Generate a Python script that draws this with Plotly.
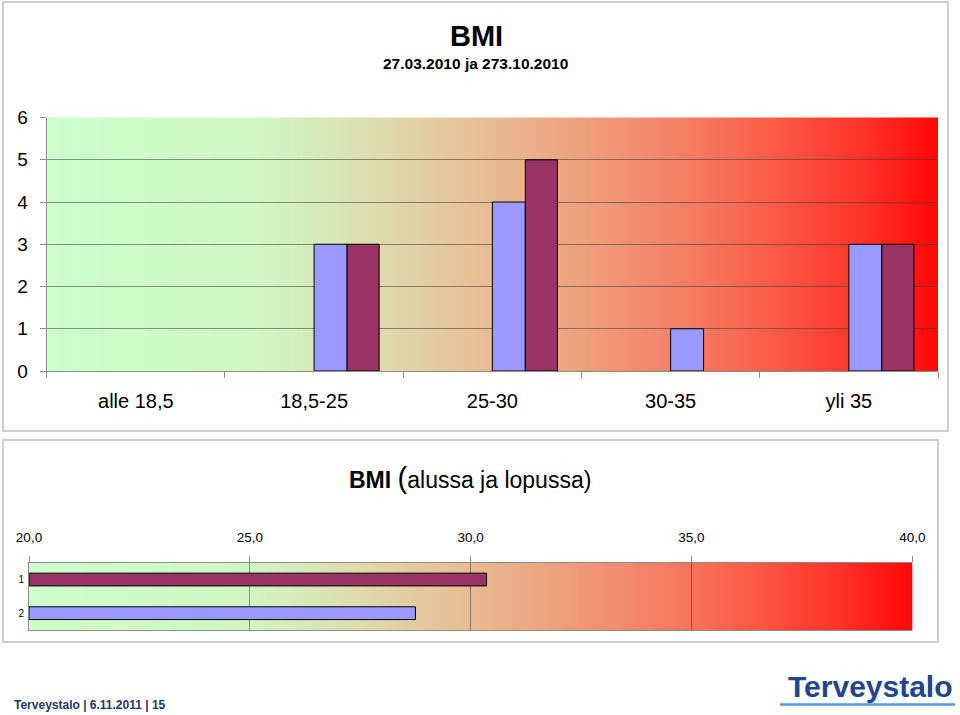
import base64
import struct
import zlib
import plotly.graph_objects as go

# ---------------- data ----------------
categories = ["alle 18,5", "18,5-25", "25-30", "30-35", "yli 35"]
series1_counts = [0, 3, 4, 1, 3]   # light blue
series2_counts = [0, 3, 5, 0, 3]   # maroon
y1_ticks = [0, 1, 2, 3, 4, 5, 6]

avg_labels = ["1", "2"]
avg_values = [30.36, 28.75]
avg_base = 20
x2_ticks = [20, 25, 30, 35, 40]

BLUE = "#9999ff"
MAROON = "#993366"

# ---------------- gradient image ----------------
stops = [
    (0.00, (204, 255, 204)),
    (0.25, (208, 245, 195)),
    (0.36, (220, 222, 175)),
    (0.47, (230, 195, 152)),
    (0.60, (238, 160, 125)),
    (0.72, (245, 125, 100)),
    (0.82, (252, 90, 70)),
    (0.92, (255, 50, 40)),
    (1.00, (255, 8, 8)),
]


def grad_png(stops, n=512):
    pix = bytearray()
    for i in range(n):
        t = i / (n - 1)
        for k in range(len(stops) - 1):
            t0, c0 = stops[k]
            t1, c1 = stops[k + 1]
            if t0 <= t <= t1:
                f = (t - t0) / (t1 - t0) if t1 > t0 else 0
                pix.extend(int(round(c0[j] + (c1[j] - c0[j]) * f)) for j in range(3))
                break
    row = b"\x00" + bytes(pix)
    raw = row * 2

    def chunk(tag, data):
        return (struct.pack(">I", len(data)) + tag + data
                + struct.pack(">I", zlib.crc32(tag + data) & 0xFFFFFFFF))

    png = (b"\x89PNG\r\n\x1a\n"
           + chunk(b"IHDR", struct.pack(">IIBBBBB", n, 2, 8, 2, 0, 0, 0))
           + chunk(b"IDAT", zlib.compress(raw))
           + chunk(b"IEND", b""))
    return "data:image/png;base64," + base64.b64encode(png).decode()


grad = grad_png(stops)

W, H = 960, 715


def px(x):
    return x / W


def py(y):
    return 1 - y / H


def edge_widths(vals):
    return [0 if v == 0 else 1 for v in vals]


fig = go.Figure()

# top chart bars
fig.add_trace(go.Bar(
    x=categories, y=series1_counts, xaxis="x", yaxis="y",
    marker=dict(color=BLUE, line=dict(color="#000000", width=edge_widths(series1_counts))),
    offset=0.0, width=0.185, hoverinfo="skip", showlegend=False,
))
fig.add_trace(go.Bar(
    x=categories, y=series2_counts, xaxis="x", yaxis="y",
    marker=dict(color=MAROON, line=dict(color="#000000", width=edge_widths(series2_counts))),
    offset=0.185, width=0.18, hoverinfo="skip", showlegend=False,
))

# bottom chart bars
fig.add_trace(go.Bar(
    y=avg_labels, x=[v - avg_base for v in avg_values], base=avg_base,
    orientation="h", xaxis="x2", yaxis="y2", width=0.38,
    marker=dict(color=[MAROON, BLUE], line=dict(color="#000000", width=1)),
    hoverinfo="skip", showlegend=False,
))

GRID = "rgba(60,60,60,0.55)"
AX = "#8c8c8c"
FONT = "Liberation Sans, Arial, sans-serif"

fig.update_layout(
    width=W, height=H, autosize=False,
    margin=dict(l=0, r=0, t=0, b=0, pad=0, autoexpand=False),
    paper_bgcolor="white", plot_bgcolor="rgba(0,0,0,0)",
    barmode="overlay",
    separators=",.",
    font=dict(family=FONT, color="#000000"),
    xaxis=dict(
        domain=[px(46.7), px(938)], type="category", range=[-0.5, 4.5],
        showgrid=False, showline=True, linecolor=AX, linewidth=1,
        ticks="outside", tickson="boundaries", ticklen=6, tickcolor=AX,
        tickfont=dict(size=20), ticklabelstandoff=12, anchor="y",
        fixedrange=True, automargin=False,
    ),
    yaxis=dict(
        domain=[py(371), py(117.5)], range=[0, 6], tickvals=y1_ticks,
        showgrid=True, gridcolor=GRID, gridwidth=1,
        showline=True, linecolor=AX, linewidth=1, zeroline=False,
        ticks="outside", ticklen=6, tickcolor=AX,
        tickfont=dict(size=19), ticklabelstandoff=8, anchor="x",
        fixedrange=True, automargin=False,
    ),
    xaxis2=dict(
        domain=[px(29), px(912.3)], range=[20, 40], tickvals=x2_ticks,
        tickformat=".1f", side="top", anchor="y2",
        showgrid=True, gridcolor=GRID, gridwidth=1, zeroline=False,
        showline=True, linecolor=AX, linewidth=1, mirror=True,
        ticks="outside", ticklen=6, tickcolor=AX,
        tickfont=dict(size=13.5), ticklabelstandoff=8,
        fixedrange=True, automargin=False,
    ),
    yaxis2=dict(
        domain=[py(630), py(562.7)], type="category", autorange="reversed",
        anchor="x2", showgrid=False, showline=True, linecolor=AX, linewidth=1,
        ticks="", tickfont=dict(size=10), ticklabelstandoff=2,
        fixedrange=True, automargin=False,
    ),
    images=[
        dict(source=grad, xref="x domain", yref="y domain", x=0, y=1,
             sizex=1, sizey=1, sizing="stretch", layer="below",
             xanchor="left", yanchor="top"),
        dict(source=grad, xref="x2 domain", yref="y2 domain", x=0, y=1,
             sizex=1, sizey=1, sizing="stretch", layer="below",
             xanchor="left", yanchor="top"),
    ],
    shapes=[
        dict(type="rect", xref="paper", yref="paper",
             x0=px(3), x1=px(948), y0=py(431), y1=py(2),
             line=dict(color="#cfcfcf", width=2), layer="below"),
        dict(type="rect", xref="paper", yref="paper",
             x0=px(3), x1=px(938), y0=py(642), y1=py(440),
             line=dict(color="#cfcfcf", width=2), layer="below"),
        dict(type="line", xref="paper", yref="paper",
             x0=px(780), x1=px(955), y0=py(704.5), y1=py(704.5),
             line=dict(color="#4f9ad8", width=2.5)),
    ],
    annotations=[
        dict(text="<b>BMI</b>", x=px(476), y=py(36), xref="paper", yref="paper",
             showarrow=False, font=dict(size=29, family=FONT),
             xanchor="center", yanchor="middle"),
        dict(text="<b>27.03.2010 ja 273.10.2010</b>", x=px(475), y=py(64),
             xref="paper", yref="paper", showarrow=False,
             font=dict(size=15.5, family=FONT), xanchor="center", yanchor="middle"),
        dict(text=("<b>BMI</b> <span style='font-size:29px'>(</span>alussa ja lopussa)"),
             x=px(470), y=py(478), xref="paper", yref="paper", showarrow=False,
             font=dict(size=23, family=FONT), xanchor="center", yanchor="middle"),
        dict(text="<b>Terveystalo | 6.11.2011 | 15</b>", x=px(12), y=py(705),
             xref="paper", yref="paper", showarrow=False,
             font=dict(size=12, family=FONT, color="#1c3966"),
             xanchor="left", yanchor="middle"),
        dict(text="<b>Terveystalo</b>", x=px(955), y=py(686),
             xref="paper", yref="paper", showarrow=False,
             font=dict(size=30, family=FONT, color="#1e4690"),
             xanchor="right", yanchor="middle"),
    ],
)

fig.write_html(
    "out.html",
    post_script=("document.body.style.margin='0';"
                 "document.body.style.padding='0';"
                 "document.body.style.overflow='hidden';"),
)
